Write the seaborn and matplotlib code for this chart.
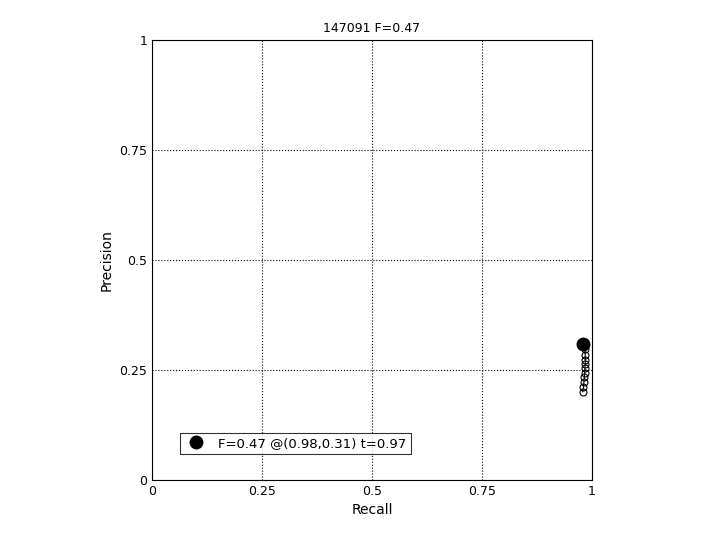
import matplotlib
matplotlib.use("Agg")
import matplotlib.pyplot as plt
import seaborn as sns
import pandas as pd

# precision/recall curve points
recall = [0.983, 0.984, 0.985, 0.985, 0.985, 0.984, 0.984, 0.983, 0.982, 0.981, 0.979]
precision = [0.305, 0.298, 0.284, 0.273, 0.264, 0.255, 0.243, 0.234, 0.223, 0.211, 0.200]
best_recall = [0.98]
best_precision = [0.31]
best_label = "F=0.47 @(0.98,0.31) t=0.97"
title = "147091 F=0.47"
ticks = [0, 0.25, 0.5, 0.75, 1]
tick_labels = ["0", "0.25", "0.5", "0.75", "1"]

df = pd.DataFrame({"Recall": recall, "Precision": precision})
best = pd.DataFrame({"Recall": best_recall, "Precision": best_precision})

sns.set_style("white")
plt.rcParams["font.family"] = ["DejaVu Sans"]
plt.rcParams["text.color"] = "black"
plt.rcParams["axes.labelcolor"] = "black"

fig = plt.figure(figsize=(7.2, 5.4), dpi=100)
ax = fig.add_axes([0.211, 0.111, 0.611, 0.815])

sns.lineplot(data=df, x="Recall", y="Precision", ax=ax, color="black",
             linewidth=0.8, marker="o", markersize=5, markerfacecolor="none",
             markeredgecolor="black", markeredgewidth=0.8, sort=False,
             estimator=None)
ax.plot(best["Recall"], best["Precision"], "o", color="black", markersize=9,
        label=best_label)

ax.set_xlim(0, 1)
ax.set_ylim(0, 1)
ax.set_xticks(ticks)
ax.set_yticks(ticks)
ax.set_xticklabels(tick_labels)
ax.set_yticklabels(tick_labels)
ax.tick_params(direction="in", length=4, labelsize=9, colors="black")
ax.grid(True, linestyle=":", color="black", linewidth=0.8)
for s in ax.spines.values():
    s.set_color("black")
    s.set_linewidth(0.8)
    s.set_visible(True)

ax.set_xlabel("Recall", fontsize=10, color="black")
ax.set_ylabel("Precision", fontsize=10, color="black")
ax.set_title(title, fontsize=9, color="black")

leg = ax.legend(loc="lower left", bbox_to_anchor=(0.064, 0.06), fontsize=9.5,
                frameon=True, fancybox=False, handlelength=1.8,
                borderpad=0.3, borderaxespad=0)
leg.get_frame().set_edgecolor("black")
leg.get_frame().set_linewidth(0.8)

fig.savefig("out.png", dpi=100)
